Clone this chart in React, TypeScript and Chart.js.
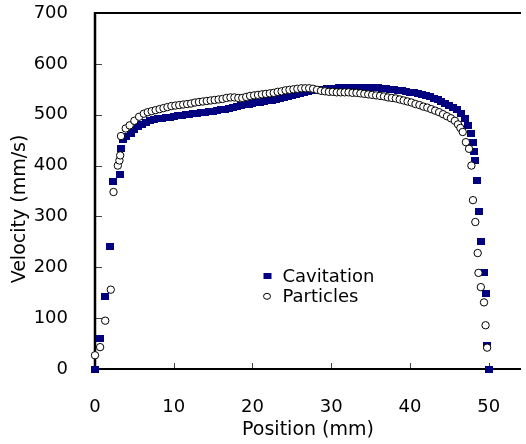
import { useEffect, useRef } from "react";
import { Chart, registerables } from "chart.js";

Chart.register(...registerables);

const cavitationX = [
  0, 0.65, 1.3, 1.9, 2.3, 3.2, 3.3, 3.6, 4.0, 4.6, 5.0, 5.4, 6.0, 6.5, 7.0, 7.5, 8.0, 8.5, 9.0, 9.5,
  10.0, 10.5, 11.0, 11.5, 12.0, 12.5, 13.0, 13.5, 14.0, 14.5, 15.0, 15.5, 16.0, 16.5, 17.0, 17.5,
  18.0, 18.5, 19.0, 19.5, 20.0, 20.5, 21.0, 21.5, 22.0, 22.5, 23.0, 23.5, 24.0, 24.5, 25.0, 25.5,
  26.0, 26.5, 27.0, 27.5, 28.0, 28.5, 29.0, 29.5, 30.0, 30.5, 31.0, 31.5, 32.0, 32.5, 33.0, 33.5,
  34.0, 34.5, 35.0, 35.5, 36.0, 36.5, 37.0, 37.5, 38.0, 38.5, 39.0, 39.5, 40.0, 40.5, 41.0, 41.5,
  42.0, 42.5, 43.0, 43.5, 44.0, 44.5, 45.0, 45.5, 46.0, 46.5, 47.0, 47.4, 47.7, 47.95, 48.1, 48.3,
  48.5, 48.8, 49.0, 49.4, 49.7, 49.8, 50.0,
];
const cavitationY = [
  0, 59, 143, 240, 368, 383, 433, 451, 458, 463, 470, 476, 481, 485, 488, 490, 492, 493, 494, 495,
  497, 498, 499, 500, 501, 502, 503, 504, 505, 506, 507, 508, 510, 511, 513, 514,
  516, 518, 520, 521, 522, 524, 525, 526, 527, 528, 530, 532, 534, 536, 538, 540,
  542, 544, 546, 547, 548, 549, 550, 551, 552, 552, 553, 553, 554, 554, 554, 554,
  554, 554, 554, 553, 553, 552, 551, 550, 549, 548, 547, 546, 544, 543, 541, 539,
  537, 535, 532, 529, 526, 522, 519, 515, 510, 503, 493, 478, 463, 446, 427, 410,
  371, 309, 250, 189, 149, 46, 0,
];

const particlesX = [
  0, 0.65, 1.3, 2.0, 2.35, 2.9, 3.1, 3.2, 3.3, 3.9, 4.4, 5.0, 5.6, 6.2, 6.7, 7.2, 7.7, 8.2, 8.7, 9.2,
  9.7, 10.2, 10.7, 11.2, 11.7, 12.2, 12.7, 13.2, 13.7, 14.2, 14.7, 15.2, 15.7, 16.2, 16.7, 17.2,
  17.7, 18.2, 18.7, 19.2, 19.7, 20.2, 20.7, 21.2, 21.7, 22.2, 22.7, 23.2, 23.7, 24.2, 24.7, 25.2,
  25.7, 26.2, 26.7, 27.2, 27.7, 28.2, 28.7, 29.2, 29.7, 30.2, 30.7, 31.2, 31.7, 32.2, 32.7, 33.2,
  33.7, 34.2, 34.7, 35.2, 35.7, 36.2, 36.7, 37.2, 37.7, 38.2, 38.7, 39.2, 39.7, 40.2, 40.7, 41.2,
  41.7, 42.2, 42.7, 43.2, 43.7, 44.2, 44.7, 45.2, 45.7, 46.1, 46.4, 46.7, 47.1, 47.5, 47.8, 48.0,
  48.3, 48.6, 48.7, 49.0, 49.4, 49.6, 49.8,
];
const particlesY = [
  27, 43, 95, 156, 348, 400, 410, 420, 458, 473, 479, 488, 496, 502, 505, 507, 509, 511, 513, 515,
  517, 518, 519, 520, 521, 522, 524, 525, 526, 527, 528, 529, 530, 531, 533, 534,
  534, 533, 533, 535, 537, 538, 539, 540, 541, 542, 543, 545, 546, 548, 549, 550,
  551, 552, 552, 552, 551, 549, 547, 546, 545, 545, 544, 544, 544, 544, 543, 543,
  542, 541, 540, 539, 538, 537, 536, 534, 533, 532, 530, 528, 526, 524, 521, 519,
  516, 514, 511, 508, 505, 501, 497, 493, 488, 481, 474, 466, 446, 433, 400, 332,
  289, 228, 189, 161, 131, 86, 42,
];

const xTicks = [0, 10, 20, 30, 40, 50];
const yTicks = [0, 100, 200, 300, 400, 500, 600, 700];
const seriesNames = ["Cavitation", "Particles"];
const xTitle = "Position (mm)";
const yTitle = "Velocity (mm/s)";

const NAVY = "#000080";
const FONT = "'DejaVu Sans', sans-serif";

function makeSquare(): HTMLCanvasElement {
  const c = document.createElement("canvas");
  c.width = 8;
  c.height = 7;
  const g = c.getContext("2d")!;
  g.fillStyle = NAVY;
  g.fillRect(0, 0, 8, 7);
  return c;
}

export default function App() {
  const canvasRef = useRef<HTMLCanvasElement | null>(null);

  useEffect(() => {
    if (!canvasRef.current) return;
    const square = makeSquare();

    const axesPlugin = {
      id: "axesPlugin",
      beforeDatasetsDraw(chart: any) {
        const { ctx, chartArea } = chart;
        const { left, right, top, bottom } = chartArea;
        const xs = chart.scales.x;
        const ys = chart.scales.y;
        ctx.save();
        ctx.lineWidth = 1;
        ctx.strokeStyle = "#444444";
        yTicks.forEach((v) => {
          const py = Math.round(ys.getPixelForValue(v)) + 0.5;
          ctx.beginPath();
          ctx.moveTo(left, py);
          ctx.lineTo(left + 7, py);
          ctx.stroke();
        });
        xTicks.forEach((v) => {
          const px = Math.round(xs.getPixelForValue(v)) + 0.5;
          ctx.beginPath();
          ctx.moveTo(px, bottom);
          ctx.lineTo(px, bottom - 6);
          ctx.stroke();
        });
        ctx.strokeStyle = "#000000";
        ctx.lineWidth = 2;
        ctx.beginPath();
        ctx.moveTo(left, top);
        ctx.lineTo(right, top);
        ctx.stroke();
        ctx.beginPath();
        ctx.moveTo(left, bottom);
        ctx.lineTo(right, bottom);
        ctx.stroke();
        ctx.lineWidth = 2.5;
        ctx.beginPath();
        ctx.moveTo(left, top - 1);
        ctx.lineTo(left, bottom + 1);
        ctx.stroke();
        ctx.restore();
      },
      afterDraw(chart: any) {
        const { ctx } = chart;
        ctx.save();
        ctx.translate(20, 209);
        ctx.rotate(-Math.PI / 2);
        ctx.font = `19px ${FONT}`;
        ctx.fillStyle = "#000000";
        ctx.textAlign = "center";
        ctx.textBaseline = "middle";
        ctx.fillText(yTitle, 0, 0);
        ctx.restore();

        ctx.save();
        ctx.fillStyle = NAVY;
        ctx.fillRect(263.5, 273, 8, 6);
        ctx.beginPath();
        ctx.ellipse(267, 296.3, 3.5, 3, 0, 0, Math.PI * 2);
        ctx.fillStyle = "#ffffff";
        ctx.fill();
        ctx.lineWidth = 1;
        ctx.strokeStyle = "#000000";
        ctx.stroke();
        ctx.font = `18px ${FONT}`;
        ctx.fillStyle = "#000000";
        ctx.textAlign = "left";
        ctx.textBaseline = "alphabetic";
        ctx.fillText(seriesNames[0], 282.5, 281.7);
        ctx.fillText(seriesNames[1], 282.5, 301.7);
        ctx.restore();
      },
    };

    const chart = new Chart(canvasRef.current, {
      type: "scatter",
      data: {
        datasets: [
          {
            label: seriesNames[1],
            data: particlesX.map((x, i) => ({ x, y: particlesY[i] })),
            pointStyle: "circle",
            pointRadius: 3.7,
            pointBorderWidth: 1,
            backgroundColor: "#ffffff",
            borderColor: "#000000",
            clip: false as any,
          },
          {
            label: seriesNames[0],
            data: cavitationX.map((x, i) => ({ x, y: cavitationY[i] })),
            pointStyle: square as any,
            pointRadius: 4,
            backgroundColor: NAVY,
            borderColor: NAVY,
            clip: false as any,
          },
        ],
      },
      options: {
        animation: false,
        responsive: true,
        maintainAspectRatio: false,
        layout: { padding: { top: 13, right: 0, left: 0, bottom: 0 } },
        plugins: {
          legend: { display: false },
          tooltip: { enabled: false },
        },
        events: [],
        scales: {
          x: {
            type: "linear",
            min: 0,
            max: 54.1,
            afterBuildTicks: (scale: any) => {
              scale.ticks = xTicks.map((v) => ({ value: v }));
            },
            afterFit: (scale: any) => {
              scale.height = 75;
              scale.paddingLeft = 0;
              scale.paddingRight = 0;
            },
            grid: { display: false },
            border: { display: false },
            ticks: {
              color: "#000000",
              font: { family: FONT, size: 18 },
              padding: 20,
              maxRotation: 0,
              autoSkip: false,
            },
            title: {
              display: true,
              text: xTitle,
              color: "#000000",
              font: { family: FONT, size: 19 },
              padding: { top: 0, bottom: 3 },
            },
          },
          y: {
            type: "linear",
            min: 0,
            max: 700,
            afterBuildTicks: (scale: any) => {
              scale.ticks = yTicks.map((v) => ({ value: v }));
            },
            afterFit: (scale: any) => {
              scale.width = 95;
              scale.paddingTop = 0;
              scale.paddingBottom = 0;
            },
            grid: { display: false },
            border: { display: false },
            ticks: {
              color: "#000000",
              font: { family: FONT, size: 18 },
              padding: 19,
              autoSkip: false,
            },
          },
        },
      },
      plugins: [axesPlugin],
    });

    return () => {
      chart.destroy();
    };
  }, []);

  return (
    <div style={{ position: "absolute", left: 0, top: 0, width: 526, height: 444 }}>
      <canvas ref={canvasRef} />
    </div>
  );
}
